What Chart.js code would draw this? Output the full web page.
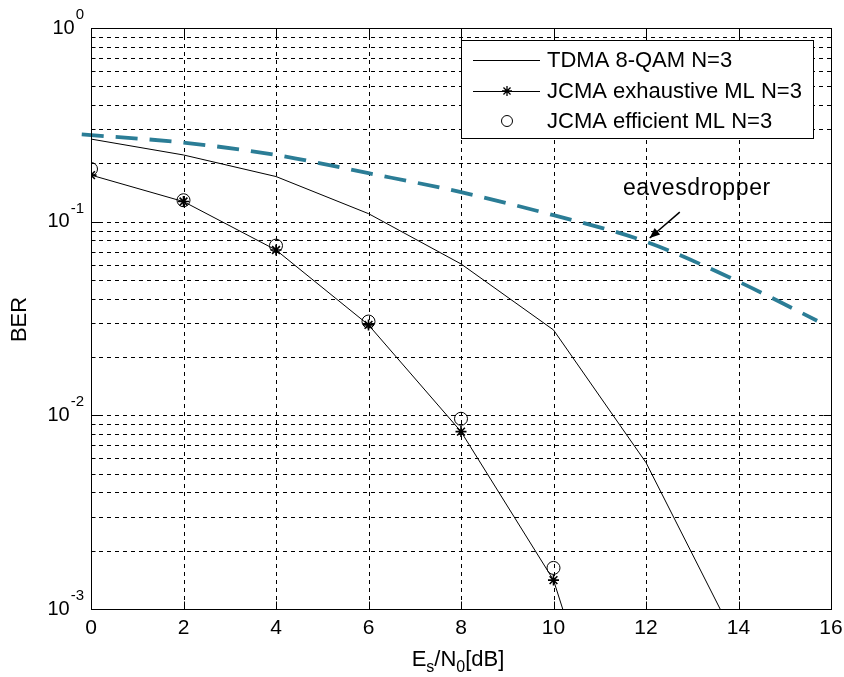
<!DOCTYPE html>
<html>
<head>
<meta charset="utf-8">
<script src="https://cdn.jsdelivr.net/npm/chart.js@4.4.1/dist/chart.umd.min.js"></script>
<style>
  html, body { margin: 0; padding: 0; background: #fff; }
  #wrap { width: 844px; height: 677px; }
</style>
</head>
<body>
<div id="wrap"><canvas id="ber" width="844" height="677"></canvas></div>
<script>
// SNR axis (dB) and BER curves
const snrDb = [0, 2, 4, 6, 8, 10, 12, 14];
const tdmaBer = [0.267, 0.221, 0.171, 0.110, 0.0605, 0.0276, 0.0057, 0.00065];

const exhaustiveSnr = [0, 2, 4, 6, 8, 10, 12];
const exhaustiveBer = [0.174, 0.127, 0.0714, 0.0293, 0.00824, 0.00141, 0.000045];

const efficientSnr = [0, 2, 4, 6, 8, 10];
const efficientBer = [0.187, 0.129, 0.0752, 0.0305, 0.0096, 0.00163];

const eveSnr = [-0.2, 2, 4, 6, 8, 10, 12, 14, 15.7];
const eveBer = [0.282, 0.256, 0.221, 0.178, 0.142, 0.108, 0.0788, 0.049, 0.0308];

const xTicks = [0, 2, 4, 6, 8, 10, 12, 14, 16];
const yDecades = [0, -1, -2, -3];

const seriesNames = ['TDMA 8-QAM N=3', 'JCMA exhaustive ML N=3', 'JCMA efficient ML N=3'];
const eveLabel = 'eavesdropper';

const FONT = '"Liberation Sans", Arial, sans-serif';
const pts = (xs, ys) => xs.map((x, i) => ({ x: x, y: ys[i] }));

// grid drawn beneath the curves (MATLAB-style dotted grid)
const gridPlugin = {
  id: 'matlabGrid',
  beforeDatasetsDraw(chart) {
    const { ctx, chartArea: a, scales: { x, y } } = chart;
    ctx.save();
    ctx.strokeStyle = '#000';
    ctx.lineWidth = 1;
    ctx.setLineDash([4, 4]);
    xTicks.forEach(v => {
      if (v <= 0 || v >= 16) return;
      const px = Math.round(x.getPixelForValue(v)) + 0.5;
      ctx.beginPath(); ctx.moveTo(px, a.top); ctx.lineTo(px, a.bottom); ctx.stroke();
    });
    for (let d = -3; d < 0; d++) {
      for (let m = 1; m <= 9; m++) {
        if (d === -3 && m === 1) continue;
        const py = Math.round(y.getPixelForValue(m * Math.pow(10, d))) + 0.5;
        ctx.beginPath(); ctx.moveTo(a.left, py); ctx.lineTo(a.right, py); ctx.stroke();
      }
    }
    ctx.restore();
  }
};

// axes box, ticks, labels, legend and annotation
const framePlugin = {
  id: 'matlabFrame',
  afterDraw(chart) {
    const { ctx, chartArea: a, scales: { x, y } } = chart;
    ctx.save();
    ctx.setLineDash([]);
    ctx.strokeStyle = '#000';
    ctx.lineWidth = 1;
    const L = Math.round(a.left) + 0.5, R = Math.round(a.right) + 0.5;
    const T = Math.round(a.top) + 0.5, B = Math.round(a.bottom) + 0.5;
    ctx.strokeRect(L, T, R - L, B - T);

    // x ticks
    xTicks.forEach(v => {
      const px = Math.round(x.getPixelForValue(v)) + 0.5;
      ctx.beginPath();
      ctx.moveTo(px, B); ctx.lineTo(px, B - 8);
      ctx.moveTo(px, T); ctx.lineTo(px, T + 8);
      ctx.stroke();
    });
    // y ticks (major + minor)
    for (let d = -3; d <= 0; d++) {
      for (let m = 1; m <= 9; m++) {
        if (d === 0 && m > 1) break;
        const py = Math.round(y.getPixelForValue(m * Math.pow(10, d))) + 0.5;
        const len = m === 1 ? 8 : 4;
        ctx.beginPath();
        ctx.moveTo(L, py); ctx.lineTo(L + len, py);
        ctx.moveTo(R, py); ctx.lineTo(R - len, py);
        ctx.stroke();
      }
    }

    ctx.fillStyle = '#000';
    // x tick labels
    ctx.font = '21px ' + FONT;
    ctx.textAlign = 'center';
    ctx.textBaseline = 'middle';
    xTicks.forEach(v => {
      ctx.fillText(String(v), x.getPixelForValue(v), a.bottom + 19);
    });

    // y tick labels 10^n
    yDecades.forEach(d => {
      const py = y.getPixelForValue(Math.pow(10, d));
      const exp = String(d);
      ctx.font = '15px ' + FONT;
      const ew = ctx.measureText(exp).width;
      const right = a.left - 7;
      ctx.textAlign = 'left';
      ctx.textBaseline = 'middle';
      ctx.fillText(exp, right - ew, py - 13);
      ctx.font = '20px ' + FONT;
      ctx.textAlign = 'right';
      ctx.fillText('10', right - ew - 1, py);
    });

    // axis titles
    ctx.save();
    ctx.translate(20, (a.top + a.bottom) / 2 + 1);
    ctx.rotate(-Math.PI / 2);
    ctx.font = '22px ' + FONT;
    ctx.textAlign = 'center';
    ctx.textBaseline = 'middle';
    ctx.fillText('BER', 0, 0);
    ctx.restore();

    const parts = [
      { t: 'E', f: 22, dy: 0 },
      { t: 's', f: 16, dy: 6 },
      { t: '/N', f: 22, dy: 0 },
      { t: '0', f: 16, dy: 6 },
      { t: '[dB]', f: 22, dy: 0 }
    ];
    let total = 0;
    parts.forEach(p => { ctx.font = p.f + 'px ' + FONT; p.w = ctx.measureText(p.t).width; total += p.w; });
    let cx = 458 - total / 2;
    ctx.textAlign = 'left';
    ctx.textBaseline = 'alphabetic';
    parts.forEach(p => {
      ctx.font = p.f + 'px ' + FONT;
      ctx.fillText(p.t, cx, a.bottom + 57 + p.dy);
      cx += p.w;
    });

    // legend
    const lx = 461, ly = 40, lw = 352, lh = 98;
    ctx.fillStyle = '#fff';
    ctx.fillRect(lx + 0.5, ly + 0.5, lw, lh);
    ctx.strokeRect(lx + 0.5, ly + 0.5, lw, lh);
    ctx.fillStyle = '#000';
    const rowY = [60, 91, 121];
    const sx0 = 473, sx1 = 540, sxm = 507;
    ctx.beginPath();
    ctx.moveTo(sx0, rowY[0] + 0.5); ctx.lineTo(sx1, rowY[0] + 0.5);
    ctx.moveTo(sx0, rowY[1] + 0.5); ctx.lineTo(sx1, rowY[1] + 0.5);
    ctx.stroke();
    // asterisk marker
    const r = 5;
    ctx.lineWidth = 1.3;
    ctx.beginPath();
    ctx.moveTo(sxm - r, rowY[1]); ctx.lineTo(sxm + r, rowY[1]);
    ctx.moveTo(sxm, rowY[1] - r); ctx.lineTo(sxm, rowY[1] + r);
    const q = r * 0.707;
    ctx.moveTo(sxm - q, rowY[1] - q); ctx.lineTo(sxm + q, rowY[1] + q);
    ctx.moveTo(sxm - q, rowY[1] + q); ctx.lineTo(sxm + q, rowY[1] - q);
    ctx.stroke();
    ctx.lineWidth = 1;
    // circle marker
    ctx.beginPath();
    ctx.arc(sxm, rowY[2], 5.5, 0, Math.PI * 2);
    ctx.stroke();
    ctx.font = '22px ' + FONT;
    ctx.textAlign = 'left';
    ctx.textBaseline = 'middle';
    seriesNames.forEach((n, i) => ctx.fillText(n, 547, rowY[i] + 1));

    // eavesdropper annotation with arrow
    const tipX = x.getPixelForValue(12.08), tipY = y.getPixelForValue(0.0824);
    const tailX = x.getPixelForValue(12.73), tailY = y.getPixelForValue(0.112);
    ctx.lineWidth = 1.5;
    ctx.beginPath(); ctx.moveTo(tailX, tailY); ctx.lineTo(tipX, tipY); ctx.stroke();
    const ang = Math.atan2(tipY - tailY, tipX - tailX);
    const hl = 11, hw = 0.4;
    ctx.beginPath();
    ctx.moveTo(tipX, tipY);
    ctx.lineTo(tipX - hl * Math.cos(ang - hw), tipY - hl * Math.sin(ang - hw));
    ctx.lineTo(tipX - hl * Math.cos(ang + hw), tipY - hl * Math.sin(ang + hw));
    ctx.closePath();
    ctx.fill();
    ctx.font = '23px ' + FONT;
    ctx.letterSpacing = '0.6px';
    ctx.textAlign = 'center';
    ctx.textBaseline = 'alphabetic';
    ctx.fillText(eveLabel, x.getPixelForValue(13.1), y.getPixelForValue(0.151) + 8);
    ctx.letterSpacing = '0px';

    ctx.restore();
  }
};

new Chart(document.getElementById('ber'), {
  type: 'line',
  data: {
    datasets: [
      {
        label: seriesNames[0],
        data: pts(snrDb, tdmaBer),
        borderColor: '#000', borderWidth: 1, pointRadius: 0, tension: 0
      },
      {
        label: seriesNames[1],
        data: pts(exhaustiveSnr, exhaustiveBer),
        borderColor: '#000', borderWidth: 1, tension: 0,
        pointStyle: 'star', pointRadius: 5.5, pointBorderWidth: 1.6,
        pointBorderColor: '#000', pointBackgroundColor: '#000'
      },
      {
        label: seriesNames[2],
        data: pts(efficientSnr, efficientBer),
        showLine: false,
        pointStyle: 'circle', pointRadius: 6.5, pointBorderWidth: 1,
        pointBorderColor: '#000', pointBackgroundColor: 'rgba(0,0,0,0)'
      },
      {
        label: eveLabel,
        data: pts(eveSnr, eveBer),
        borderColor: '#2b7d96', borderWidth: 3.8, borderDash: [22, 12],
        pointRadius: 0, tension: 0.3, cubicInterpolationMode: 'monotone',
        clip: { left: 14, top: 0, right: 0, bottom: 0 }
      }
    ]
  },
  options: {
    responsive: false,
    animation: false,
    devicePixelRatio: 1,
    layout: { padding: { left: 91, right: 13, top: 28, bottom: 68 } },
    plugins: { legend: { display: false }, tooltip: { enabled: false } },
    scales: {
      x: { type: 'linear', min: 0, max: 16, display: false },
      y: { type: 'logarithmic', min: 0.001, max: 1, display: false }
    }
  },
  plugins: [gridPlugin, framePlugin]
});
</script>
</body>
</html>
